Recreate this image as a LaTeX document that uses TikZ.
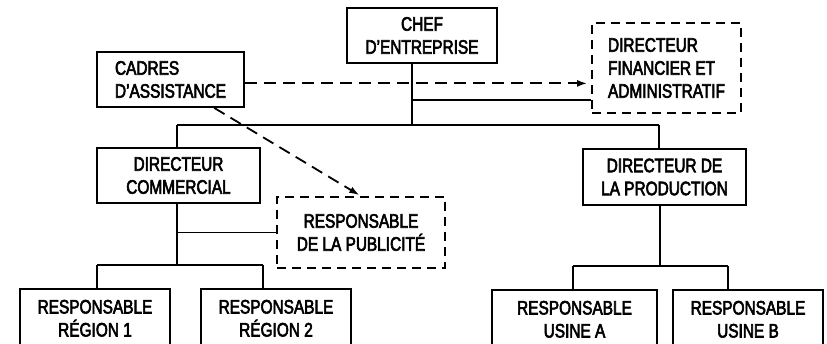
\documentclass[tikz,border=0pt]{standalone}
\usepackage{fontspec}
\setmainfont{Liberation Sans}[FakeStretch=0.79, FakeBold=3]
\usetikzlibrary{arrows.meta}

\begin{document}
\begin{tikzpicture}[x=1pt, y=-1pt, line width=1.8pt,
  every node/.style={rectangle, draw, inner sep=0pt, align=center,
    font=\fontsize{19.5}{23}\selectfont},
  pointille/.style={dash pattern=on 9pt off 6pt},
  bas/.style={anchor=north, inner xsep=0pt, inner ysep=11pt, text depth=60pt},
  fleche/.style={dash pattern=on 12pt off 7pt, -{Latex[length=10pt,width=7pt]}}]
  \useasboundingbox (0,0) rectangle (827,344);
  \clip (0,0) rectangle (827,344);
  \node[minimum width=150pt, minimum height=55pt] (chef) at (422,35.5) {CHEF\\D'ENTREPRISE};
  \node[minimum width=147pt, minimum height=55pt, align=left] (cadres) at (170.5,79.5) {CADRES\\D'ASSISTANCE};
  \node[pointille, minimum width=149pt, minimum height=90pt, align=left] (dfa) at (666.5,68) {DIRECTEUR\\FINANCIER ET\\ADMINISTRATIF};
  \node[minimum width=163pt, minimum height=55pt] (dc) at (178.5,175.5) {DIRECTEUR\\COMMERCIAL};
  \node[minimum width=163pt, minimum height=56pt] (dp) at (664.5,177) {DIRECTEUR DE\\LA PRODUCTION};
  \node[pointille, minimum width=168pt, minimum height=71pt] (pub) at (361,232.5) {RESPONSABLE\\DE LA PUBLICITÉ};
  \node[bas, minimum width=150pt] (r1) at (95,288) {RESPONSABLE\\RÉGION 1};
  \node[bas, minimum width=150pt] (r2) at (276,288) {RESPONSABLE\\RÉGION 2};
  \node[bas, minimum width=165pt] (ua) at (574.5,289) {RESPONSABLE\\USINE A};
  \node[bas, minimum width=150pt] (ub) at (748,289) {RESPONSABLE\\USINE B};
  \coordinate (t) at (412,125);
  \coordinate (s) at (412,100);
  \coordinate (t1) at (177,125);
  \coordinate (t2) at (659,125);
  \coordinate (c) at (177,265);
  \coordinate (c1) at (97,265);
  \coordinate (c2) at (263,265);
  \coordinate (p) at (660,266);
  \coordinate (p1) at (573,266);
  \coordinate (p2) at (728,266);
  \draw (chef.south -| t) -- (t);
  \draw (s) -- (s -| dfa.west);
  \draw (t1) -- (t2);
  \draw (t1) -- (t1 |- dc.north);
  \draw (t2) -- (t2 |- dp.north);
  \draw (c |- dc.south) -- (c);
  \draw (c |- pub.west) -- (pub.west);
  \draw (c1) -- (c2);
  \draw (c1) -- (c1 |- r1.north);
  \draw (c2) -- (c2 |- r2.north);
  \draw (p |- dp.south) -- (p);
  \draw (p1) -- (p2);
  \draw (p1) -- (p1 |- ua.north);
  \draw (p2) -- (p2 |- ub.north);
  \draw[fleche, shorten >=4pt] (cadres.-3) -- (cadres.-3 -| dfa.west);
  \draw[fleche, shorten >=2pt] (cadres.-33) -- (pub.north);
\end{tikzpicture}
\end{document}
